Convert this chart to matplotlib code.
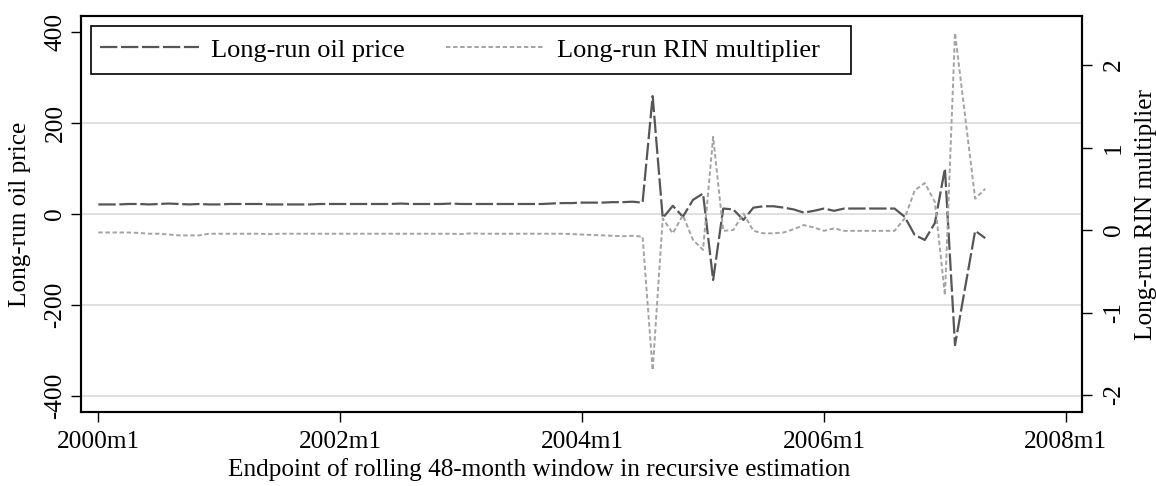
import numpy as np
import matplotlib.pyplot as plt
from matplotlib.patches import Rectangle

plt.rcParams['font.family'] = ['Liberation Serif', 'DejaVu Serif']
plt.rcParams['axes.unicode_minus'] = False
plt.rcParams['lines.scale_dashes'] = False

# months since 2000m1 (window endpoints)
month = np.arange(89)

oil_price = [21, 21, 21, 22, 22, 21, 22, 23, 22, 21,
             22, 21, 21, 22, 22, 22, 22, 21, 21, 21,
             21, 21, 22, 22, 22, 22, 22, 22, 22, 22,
             23, 22, 22, 22, 22, 23, 22, 22, 22, 22,
             22, 22, 22, 22, 22, 23, 24, 24, 25, 25,
             25, 26, 26, 27, 25,
             259, -9, 18, -6, 31, 45, -145, 12, 10, -13, 14,
             17, 17, 14, 10, 3, 7, 12, 7, 12, 12, 12, 12, 12, 12,
             -6, -46, -57, -20, 100, -288, -162, -37, -53]

rin_mult = [-0.03, -0.03, -0.03, -0.03, -0.035, -0.045, -0.045, -0.055, -0.065, -0.065,
            -0.065, -0.045, -0.045, -0.045, -0.045, -0.045, -0.045, -0.05, -0.045, -0.045,
            -0.045, -0.045, -0.045, -0.045, -0.045, -0.045, -0.045, -0.045, -0.045, -0.045,
            -0.045, -0.045, -0.045, -0.045, -0.045, -0.045, -0.05, -0.04, -0.045, -0.045,
            -0.045, -0.045, -0.045, -0.045, -0.045, -0.045, -0.045, -0.05, -0.055, -0.06,
            -0.065, -0.07, -0.075, -0.07, -0.08,
            -1.70, 0.14, -0.04, 0.18, -0.12, -0.24, 1.13, -0.01, 0.0, 0.2, -0.01,
            -0.04, -0.04, -0.03, 0.01, 0.06, 0.03, -0.01, 0.02, -0.01, -0.01, -0.01, -0.01, -0.01, -0.01,
            0.14, 0.48, 0.57, 0.34, -0.79, 2.39, 1.38, 0.38, 0.5]

xtick_pos = [0, 24, 48, 72, 96]
xtick_lab = ['2000m1', '2002m1', '2004m1', '2006m1', '2008m1']
left_ticks = [-400, -200, 0, 200, 400]
right_ticks = [-2, -1, 0, 1, 2]

fs = 18.2
W, H = 1156, 486
fig = plt.figure(figsize=(W / 100, H / 100), dpi=100)
ax = fig.add_axes([81 / W, 1 - 412 / H, 1001 / W, 396 / H])
ax2 = ax.twinx()

for y in [-400, -200, 0, 200]:
    ax.axhline(y, color='#e0e0e0', lw=1.4, zorder=0)

l1, = ax.plot(month, oil_price, color='#565656', lw=1.6, dashes=(12.5, 2.6))
l2, = ax2.plot(month, rin_mult, color='#a3a3a3', lw=1.4, dashes=(3.2, 1.9))

ax.set_xlim(-1.72, 97.6)
ax.set_ylim(-435, 435)
ax2.set_ylim(-2.206, 2.594)

ax.set_xticks(xtick_pos)
ax.set_xticklabels(xtick_lab, fontsize=fs)
ax.set_yticks(left_ticks)
ax.set_yticklabels([str(t) for t in left_ticks], fontsize=fs, rotation=90, va='center')
ax2.set_yticks(right_ticks)
ax2.set_yticklabels([str(t) for t in right_ticks], fontsize=fs, rotation=90, va='center')

for a in (ax, ax2):
    a.tick_params(length=7, width=1.0, direction='out')
    for s in a.spines.values():
        s.set_linewidth(1.5)
ax.tick_params(axis='x', pad=7)
ax.tick_params(axis='y', pad=3.5)
ax2.tick_params(axis='y', pad=8)

ax.set_xlabel('Endpoint of rolling 48-month window in recursive estimation', fontsize=fs)
ax.xaxis.set_label_coords(0.4575, -0.115)
ax.set_ylabel('Long-run oil price', fontsize=fs, va='center', ha='center')
ax.yaxis.set_label_coords(-0.061, 0.5)
ax2.set_ylabel('Long-run RIN multiplier', fontsize=fs, rotation=90, va='center', ha='center')
ax2.yaxis.set_label_coords(1.064, 0.5)

# legend box drawn as a plain rectangle, entries laid on top of it
box = Rectangle((91 / W, 1 - 74 / H), 760 / W, 48 / H, transform=fig.transFigure,
                facecolor='white', edgecolor='black', lw=1.2, zorder=4, clip_on=False)
ax2.add_patch(box)
leg = ax2.legend([l1, l2], ['Long-run oil price', 'Long-run RIN multiplier'],
                 loc='center left', bbox_to_anchor=(91 / W, 1 - 50 / H),
                 bbox_transform=fig.transFigure, borderaxespad=0,
                 ncol=2, fontsize=19, handlelength=3.75, handletextpad=0.45,
                 columnspacing=1.55, borderpad=0.35, frameon=False)
leg.set_zorder(5)

fig.savefig('out.png', dpi=100, facecolor='white')
